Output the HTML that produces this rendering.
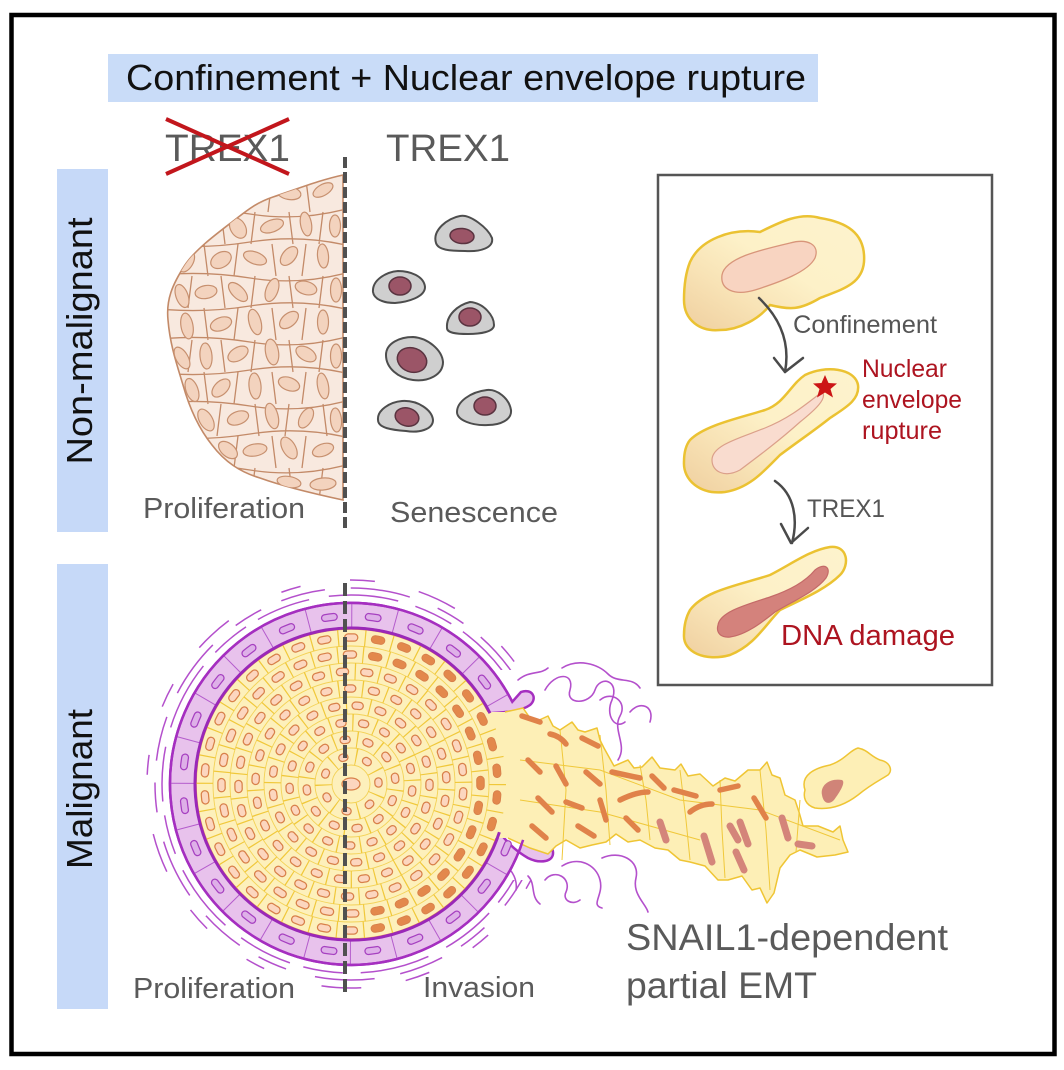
<!DOCTYPE html>
<html><head><meta charset="utf-8"><style>
html,body{margin:0;padding:0;background:#fff;}
svg{display:block;}
text{font-family:"Liberation Sans",Arial,sans-serif;}
</style></head><body>
<svg width="1064" height="1070" viewBox="0 0 1064 1070" xmlns="http://www.w3.org/2000/svg">
<defs>
<clipPath id="tis"><path d="M343,175 C320,180 300,188 273,197 C255,203 245,212 232,222 C215,235 195,250 185,265 C172,285 166,300 168,320 C170,345 177,365 183,385 C190,410 200,430 212,445 C225,462 240,472 260,478 C285,487 315,494 343,500 Z"/></clipPath>
<clipPath id="band"><path d="M512.3,701.8 A181,181 0 1 0 523.1,839.9 L499.4,832.2 A156,156 0 1 1 490,713.2 Z"/></clipPath>
<clipPath id="noneck"><path clip-rule="evenodd" d="M0,0 H1064 V1070 H0 Z M488,670 H600 V880 H488 Z"/></clipPath>
<clipPath id="rightHalf"><rect x="360" y="600" width="160" height="380"/></clipPath>
<linearGradient id="cg" x1="0" y1="1" x2="1" y2="0">
<stop offset="0" stop-color="#efcf9f"/><stop offset="0.3" stop-color="#f8e3b6"/><stop offset="0.55" stop-color="#fdf1c8"/><stop offset="1" stop-color="#fdf3cd"/>
</linearGradient>
</defs>

<rect x="0" y="0" width="1064" height="1070" fill="#fff"/>
<rect x="11.5" y="15" width="1043" height="1039" fill="none" stroke="#000" stroke-width="4.5"/>

<!-- title -->
<rect x="108" y="54" width="710" height="48" fill="#c9dcf8"/>
<text x="126" y="90" font-size="36" fill="#111" textLength="680" lengthAdjust="spacingAndGlyphs">Confinement + Nuclear envelope rupture</text>

<!-- side bars -->
<rect x="57" y="169" width="51" height="363" fill="#c6d9f8"/>
<rect x="57" y="564" width="51" height="445" fill="#c6d9f8"/>
<text transform="translate(92,341) rotate(-90)" text-anchor="middle" font-size="36" fill="#111" textLength="247" lengthAdjust="spacingAndGlyphs">Non-malignant</text>
<text transform="translate(92,789) rotate(-90)" text-anchor="middle" font-size="36" fill="#111" textLength="160" lengthAdjust="spacingAndGlyphs">Malignant</text>

<!-- TREX1 labels -->
<text x="165" y="161" font-size="38" fill="#5a5a5a" textLength="125" lengthAdjust="spacingAndGlyphs">TREX1</text>
<line x1="166" y1="119" x2="289" y2="174" stroke="#c2161c" stroke-width="4"/>
<line x1="166" y1="174" x2="289" y2="119" stroke="#c2161c" stroke-width="4"/>
<text x="386" y="161" font-size="38" fill="#5a5a5a" textLength="124" lengthAdjust="spacingAndGlyphs">TREX1</text>

<!-- non-malignant tissue -->
<path d="M343,175 C320,180 300,188 273,197 C255,203 245,212 232,222 C215,235 195,250 185,265 C172,285 166,300 168,320 C170,345 177,365 183,385 C190,410 200,430 212,445 C225,462 240,472 260,478 C285,487 315,494 343,500 Z" fill="#f8e9df" stroke="#c38a68" stroke-width="1.6"/>
<g clip-path="url(#tis)">
<path fill="none" stroke="#c38a68" stroke-width="1.3" d="
M150,212 Q200,206 250,214 T350,208 M150,244 Q200,250 250,242 T350,246 M150,276 Q200,270 250,278 T350,272
M150,308 Q200,314 250,306 T350,310 M150,340 Q200,334 250,342 T350,336 M150,372 Q200,378 250,370 T350,374
M150,404 Q200,398 250,406 T350,400 M150,436 Q200,442 250,434 T350,438 M150,468 Q200,462 250,470 T350,464
M238,180 L242,212 M272,180 L268,212 M306,180 L310,212
M187,212 L183,244 M221,212 L225,244 M255,212 L251,244 M289,212 L293,244 M323,212 L319,244
M204,244 L208,276 M238,244 L234,276 M272,244 L276,276 M306,244 L302,276
M192,276 L188,308 M221,276 L225,308 M255,276 L251,308 M289,276 L293,308 M323,276 L319,308
M204,308 L208,340 M238,308 L234,340 M272,308 L276,340 M306,308 L302,340
M192,340 L188,372 M221,340 L225,372 M255,340 L251,372 M289,340 L293,372 M323,340 L319,372
M204,372 L208,404 M238,372 L234,404 M272,372 L276,404 M306,372 L302,404
M187,404 L191,436 M221,404 L217,436 M255,404 L259,436 M289,404 L285,436 M323,404 L327,436
M204,436 L208,468 M238,436 L234,468 M272,436 L276,468 M306,436 L302,468
M255,468 L251,500 M289,468 L293,500 M323,468 L319,500"/>
<g fill="#f3d3be" stroke="#c7906f" stroke-width="1.2">
<ellipse cx="255" cy="198" rx="12" ry="6" transform="rotate(-15 255 198)"/>
<ellipse cx="289" cy="193" rx="12" ry="6.5" transform="rotate(10 289 193)"/>
<ellipse cx="323" cy="190" rx="11" ry="5.5" transform="rotate(-30 323 190)"/>
<ellipse cx="204" cy="232" rx="11" ry="6.5" transform="rotate(-40 204 232)"/>
<ellipse cx="238" cy="228" rx="11" ry="7.5" transform="rotate(60 238 228)"/>
<ellipse cx="272" cy="226" rx="12" ry="6" transform="rotate(-20 272 226)"/>
<ellipse cx="306" cy="224" rx="12" ry="5.5" transform="rotate(80 306 224)"/>
<ellipse cx="335" cy="226" rx="11" ry="5.5" transform="rotate(90 335 226)"/>
<ellipse cx="187" cy="262" rx="11" ry="6" transform="rotate(-60 187 262)"/>
<ellipse cx="221" cy="260" rx="11" ry="7.5" transform="rotate(-30 221 260)"/>
<ellipse cx="255" cy="258" rx="12" ry="6" transform="rotate(20 255 258)"/>
<ellipse cx="289" cy="256" rx="11" ry="6.5" transform="rotate(-50 289 256)"/>
<ellipse cx="323" cy="256" rx="12" ry="5.5" transform="rotate(85 323 256)"/>
<ellipse cx="182" cy="296" rx="12" ry="6" transform="rotate(70 182 296)"/>
<ellipse cx="206" cy="292" rx="11" ry="6.5" transform="rotate(-10 206 292)"/>
<ellipse cx="238" cy="292" rx="12" ry="6" transform="rotate(45 238 292)"/>
<ellipse cx="272" cy="290" rx="12" ry="6" transform="rotate(-70 272 290)"/>
<ellipse cx="306" cy="288" rx="11" ry="6.5" transform="rotate(15 306 288)"/>
<ellipse cx="336" cy="290" rx="12" ry="5.5" transform="rotate(90 336 290)"/>
<ellipse cx="187" cy="326" rx="13" ry="6" transform="rotate(80 187 326)"/>
<ellipse cx="221" cy="324" rx="11" ry="6.5" transform="rotate(-20 221 324)"/>
<ellipse cx="255" cy="322" rx="13" ry="6" transform="rotate(75 255 322)"/>
<ellipse cx="289" cy="320" rx="11" ry="6.5" transform="rotate(-40 289 320)"/>
<ellipse cx="323" cy="322" rx="12" ry="5.5" transform="rotate(90 323 322)"/>
<ellipse cx="182" cy="358" rx="12" ry="6" transform="rotate(60 182 358)"/>
<ellipse cx="206" cy="356" rx="13" ry="6" transform="rotate(85 206 356)"/>
<ellipse cx="238" cy="354" rx="11" ry="6.5" transform="rotate(-30 238 354)"/>
<ellipse cx="272" cy="352" rx="13" ry="6.5" transform="rotate(80 272 352)"/>
<ellipse cx="306" cy="354" rx="11" ry="6.5" transform="rotate(30 306 354)"/>
<ellipse cx="336" cy="356" rx="12" ry="5.5" transform="rotate(90 336 356)"/>
<ellipse cx="192" cy="390" rx="12" ry="6" transform="rotate(70 192 390)"/>
<ellipse cx="221" cy="388" rx="11" ry="6.5" transform="rotate(-45 221 388)"/>
<ellipse cx="255" cy="386" rx="13" ry="6" transform="rotate(85 255 386)"/>
<ellipse cx="289" cy="384" rx="11" ry="6.5" transform="rotate(20 289 384)"/>
<ellipse cx="323" cy="386" rx="13" ry="5.5" transform="rotate(80 323 386)"/>
<ellipse cx="206" cy="420" rx="12" ry="6.5" transform="rotate(60 206 420)"/>
<ellipse cx="238" cy="418" rx="11" ry="6.5" transform="rotate(-20 238 418)"/>
<ellipse cx="272" cy="416" rx="13" ry="6" transform="rotate(75 272 416)"/>
<ellipse cx="306" cy="418" rx="11" ry="6" transform="rotate(-60 306 418)"/>
<ellipse cx="336" cy="420" rx="12" ry="5.5" transform="rotate(85 336 420)"/>
<ellipse cx="228" cy="450" rx="11" ry="6.5" transform="rotate(40 228 450)"/>
<ellipse cx="255" cy="450" rx="12" ry="6" transform="rotate(-10 255 450)"/>
<ellipse cx="289" cy="448" rx="12" ry="6.5" transform="rotate(60 289 448)"/>
<ellipse cx="323" cy="450" rx="11" ry="6" transform="rotate(-20 323 450)"/>
<ellipse cx="289" cy="482" rx="12" ry="5.5" transform="rotate(10 289 482)"/>
<ellipse cx="323" cy="484" rx="13" ry="6" transform="rotate(-5 323 484)"/>
</g>
</g>

<!-- senescent cells -->
<g fill="#cfcfcf" stroke="#4d4d4d" stroke-width="2">
<path d="M436,243 C432,230 448,218 460,216 C470,214 488,228 492,238 C494,248 480,252 465,251 C450,251 438,250 436,243 Z"/>
<path d="M373,292 C372,280 386,272 398,271 C410,271 424,276 425,287 C425,297 408,302 395,303 C383,303 374,299 373,292 Z"/>
<path d="M447,328 C446,315 458,305 470,302 C484,303 494,316 494,325 C494,332 480,334 468,334 C456,334 447,333 447,328 Z"/>
<path d="M386,355 C386,343 400,337 413,337 C428,338 442,350 443,362 C443,375 428,382 413,380 C398,378 386,368 386,355 Z"/>
<path d="M378,420 C377,410 390,402 402,401 C418,400 432,410 433,420 C433,430 418,433 406,431 C392,430 378,428 378,420 Z"/>
<path d="M457,412 C457,402 470,392 487,390 C497,389 509,398 511,410 C512,420 500,425 488,425 C472,426 457,420 457,412 Z"/>
</g>
<g fill="#9b5567" stroke="#5a3340" stroke-width="1.5">
<ellipse cx="462" cy="236" rx="12" ry="7.5" transform="rotate(5 462 236)"/>
<ellipse cx="400" cy="286" rx="11" ry="9"/>
<ellipse cx="470" cy="317" rx="11" ry="9"/>
<ellipse cx="412" cy="360" rx="15" ry="12" transform="rotate(20 412 360)"/>
<ellipse cx="407" cy="417" rx="12" ry="9" transform="rotate(15 407 417)"/>
<ellipse cx="485" cy="406" rx="11" ry="9"/>
</g>

<!-- dashed divider top -->
<line x1="345" y1="157" x2="345" y2="528" stroke="#505050" stroke-width="4" stroke-dasharray="11 4"/>

<text x="143" y="518" font-size="29" fill="#5a5a5a" textLength="162" lengthAdjust="spacingAndGlyphs">Proliferation</text>
<text x="390" y="522" font-size="29" fill="#5a5a5a" textLength="168" lengthAdjust="spacingAndGlyphs">Senescence</text>

<!-- inset box -->
<rect x="658" y="175" width="334" height="510" fill="none" stroke="#555" stroke-width="2.5"/>
<!-- cell 1 -->
<path d="M690,262 C700,240 730,228 760,232 C780,222 800,212 820,218 C845,222 866,232 864,262 C862,285 840,290 820,298 C800,310 790,310 770,305 C760,318 740,330 720,330 C700,332 684,320 684,300 C684,285 686,272 690,262 Z" fill="url(#cg)" stroke="#ebc232" stroke-width="2.5"/>
<path d="M722,275 C725,258 760,250 790,243 C808,238 820,245 815,258 C808,272 780,282 755,290 C735,296 720,290 722,275 Z" fill="#f8d4c1" stroke="#d8957a" stroke-width="1.3"/>
<!-- cell 2 -->
<path d="M690,440 C705,425 740,418 765,410 C785,403 790,385 805,375 C825,365 855,368 858,385 C860,400 845,408 830,418 C815,430 800,440 780,455 C765,470 750,488 725,492 C700,495 683,480 684,462 C684,452 686,445 690,440 Z" fill="url(#cg)" stroke="#ebc232" stroke-width="2.5"/>
<path d="M712,460 C712,445 740,438 765,428 C790,418 805,405 822,392 C828,398 815,410 800,422 C780,440 760,455 740,470 C725,478 712,472 712,460 Z" fill="#f9dccf" stroke="#dba08a" stroke-width="1.2"/>
<polygon points="825,375 828.5,383 837,383.5 830.5,389 833,397.5 825,392.5 817,397.5 819.5,389 813,383.5 821.5,383" fill="#cc1515"/>
<!-- cell 3 -->
<path d="M690,610 C705,590 740,585 770,575 C790,565 810,550 830,547 C848,545 850,565 840,575 C825,590 800,600 780,610 C765,625 755,645 730,655 C705,662 683,652 684,635 C684,625 686,617 690,610 Z" fill="url(#cg)" stroke="#ebc232" stroke-width="2.5"/>
<path d="M718,625 C720,612 745,605 770,597 C790,590 805,582 815,570 C825,562 832,568 826,578 C815,592 795,600 775,612 C760,624 745,635 730,637 C720,638 716,632 718,625 Z" fill="#d4827c" stroke="#c46a68" stroke-width="1.2"/>
<!-- arrows -->
<g fill="none" stroke="#4a4a4a" stroke-width="2.5" stroke-linecap="round" stroke-linejoin="round">
<path d="M759,298 C782,320 790,345 785,372"/>
<path d="M774,358 L785,372 L803,358"/>
<path d="M775,481 C795,495 798,520 792,543"/>
<path d="M781,524 L791,543 L808,528"/>
</g>
<text x="793" y="333" font-size="25" fill="#555" textLength="144" lengthAdjust="spacingAndGlyphs">Confinement</text>
<text x="862" y="377" font-size="25" fill="#ad1420" textLength="85" lengthAdjust="spacingAndGlyphs">Nuclear</text>
<text x="862" y="408" font-size="25" fill="#ad1420" textLength="100" lengthAdjust="spacingAndGlyphs">envelope</text>
<text x="862" y="439" font-size="25" fill="#ad1420" textLength="80" lengthAdjust="spacingAndGlyphs">rupture</text>
<text x="807" y="517" font-size="25" fill="#555" textLength="78" lengthAdjust="spacingAndGlyphs">TREX1</text>
<text x="781" y="645" font-size="29" fill="#ad1420" textLength="174" lengthAdjust="spacingAndGlyphs">DNA damage</text>

<!-- malignant: fibers -->
<g clip-path="url(#noneck)" fill="none" stroke="#b450cc" stroke-width="1.5">
<circle cx="351" cy="784" r="189" stroke-dasharray="70 18 40 14 55 20"/>
<circle cx="351" cy="784" r="196" stroke-dasharray="45 26 60 30 30 22"/>
<circle cx="351" cy="784" r="204" stroke-dasharray="25 45 40 60 20 50"/>
</g>
<g fill="none" stroke="#b450cc" stroke-width="1.6" stroke-linecap="round">
<path d="M545,690 C555,672 575,672 570,690 C565,705 590,705 595,690 C600,675 620,680 612,700 C605,715 615,730 625,722"/>
<path d="M562,668 C578,658 598,664 608,674 C618,684 632,676 640,688"/>
<path d="M600,700 C612,690 628,702 620,716 C612,730 628,745 618,760"/>
<path d="M630,712 C640,700 655,706 650,722"/>
<path d="M518,680 C530,670 540,675 548,668"/>
<path d="M545,880 C555,868 572,878 566,892 C562,900 572,906 580,900"/>
<path d="M562,866 C578,856 596,864 600,880 C604,895 590,905 602,908"/>
<path d="M602,858 C620,850 640,860 636,878 C632,894 646,904 648,912"/>
<path d="M528,876 C536,884 530,896 540,904"/>
<path d="M498,860 C510,866 518,878 516,890"/>
</g>

<!-- purple band -->
<path d="M512.3,701.8 A181,181 0 1 0 523.1,839.9 C535,842 552,840 553,852 C554,862 540,864 528,858 C518,852 510,846 499.4,832.2 A156,156 0 1 1 490,713.2 C505,712 520,712 530,705 C538,698 532,688 521,692 Z" fill="#e8c2ec" stroke="#a52fc0" stroke-width="2.5"/>

<!-- core -->
<circle cx="351" cy="784" r="155" fill="#fdf0bb" stroke="#e8944c" stroke-width="1.6"/>
<!-- stream fill -->
<path d="M480,712 L505,712 L523,708 L530,718 L535,722 L548,716 L553,726 L560,730 L572,722 L578,730 L585,732 L597,728 L600,740 L604,748 L614,766 L628,760 L634,768 L642,767 L652,757 L660,768 L675,770 L681,764 L688,776 L700,774 L713,786 L725,778 L735,781 L748,770 L760,770 L767,762 L772,775 L780,778 L785,795 L795,800 L799,812 L803,826 L818,826 L833,832 L840,826 L843,840 L848,852 L835,855 L817,857 L800,850 L790,855 L780,868 L774,893 L767,903 L760,888 L752,890 L742,876 L728,880 L718,880 L705,866 L690,862 L680,860 L668,850 L655,848 L640,840 L628,842 L616,834 L606,842 L592,845 L580,848 L566,840 L556,846 L548,854 L530,848 L508,838 L480,838 Z" fill="#fdefb6"/>
<path d="M505,712 L523,708 L530,718 L535,722 L548,716 L553,726 L560,730 L572,722 L578,730 L585,732 L597,728 L600,740 L604,748 L614,766 L628,760 L634,768 L642,767 L652,757 L660,768 L675,770 L681,764 L688,776 L700,774 L713,786 L725,778 L735,781 L748,770 L760,770 L767,762 L772,775 L780,778 L785,795 L795,800 L799,812 L803,826 L818,826 L833,832 L840,826 L843,840 L848,852 L835,855 L817,857 L800,850 L790,855 L780,868 L774,893 L767,903 L760,888 L752,890 L742,876 L728,880 L718,880 L705,866 L690,862 L680,860 L668,850 L655,848 L640,840 L628,842 L616,834 L606,842 L592,845 L580,848 L566,840 L556,846 L548,854 L530,848 L508,838" fill="none" stroke="#efc534" stroke-width="1.5" stroke-linejoin="round"/>

<!-- core rings -->
<g fill="none">
<g stroke="#f3d257" stroke-width="0.9">
<circle cx="351" cy="784" r="138"/><circle cx="351" cy="784" r="121"/><circle cx="351" cy="784" r="104"/>
<circle cx="351" cy="784" r="87"/><circle cx="351" cy="784" r="70"/><circle cx="351" cy="784" r="53"/>
<circle cx="351" cy="784" r="36"/><circle cx="351" cy="784" r="19"/>
</g>
<g stroke="#f0c83a">
<circle cx="351" cy="784" r="146.5" stroke-width="17" stroke-dasharray="1.2 25.87"/>
<circle cx="351" cy="784" r="129.5" stroke-width="17" stroke-dasharray="1.2 24.23" transform="rotate(5 351 784)"/>
<circle cx="351" cy="784" r="112.5" stroke-width="17" stroke-dasharray="1.2 23.18" transform="rotate(11 351 784)"/>
<circle cx="351" cy="784" r="95.5" stroke-width="17" stroke-dasharray="1.2 22.8" transform="rotate(3 351 784)"/>
<circle cx="351" cy="784" r="78.5" stroke-width="17" stroke-dasharray="1.2 22.29" transform="rotate(9 351 784)"/>
<circle cx="351" cy="784" r="61.5" stroke-width="17" stroke-dasharray="1.2 21.53" transform="rotate(17 351 784)"/>
<circle cx="351" cy="784" r="44.5" stroke-width="17" stroke-dasharray="1.2 22.1" transform="rotate(7 351 784)"/>
<circle cx="351" cy="784" r="27.5" stroke-width="17" stroke-dasharray="1.2 23.49" transform="rotate(22 351 784)"/>
</g>
<g stroke="#d8804a" stroke-width="8.5" stroke-linecap="round">
<circle cx="351" cy="784" r="146.5" stroke-dasharray="6 21.07" stroke-dashoffset="16.54"/>
<circle cx="351" cy="784" r="129.5" stroke-dasharray="6 19.43" stroke-dashoffset="15.7" transform="rotate(5 351 784)"/>
<circle cx="351" cy="784" r="112.5" stroke-dasharray="5 19.38" stroke-dashoffset="14.69" transform="rotate(11 351 784)"/>
<circle cx="351" cy="784" r="95.5" stroke-dasharray="4 20" stroke-dashoffset="14" transform="rotate(3 351 784)"/>
<circle cx="351" cy="784" r="78.5" stroke-dasharray="4 19.49" stroke-dashoffset="13.75" transform="rotate(9 351 784)"/>
<circle cx="351" cy="784" r="61.5" stroke-dasharray="3 19.73" stroke-dashoffset="12.87" transform="rotate(17 351 784)"/>
<circle cx="351" cy="784" r="44.5" stroke-dasharray="3 20.3" stroke-dashoffset="13.15" transform="rotate(7 351 784)"/>
<circle cx="351" cy="784" r="27.5" stroke-dasharray="2 22.69" stroke-dashoffset="13.35" transform="rotate(22 351 784)"/>
</g>
<g stroke="#fcd6bf" stroke-width="6" stroke-linecap="round">
<circle cx="351" cy="784" r="146.5" stroke-dasharray="6 21.07" stroke-dashoffset="16.54"/>
<circle cx="351" cy="784" r="129.5" stroke-dasharray="6 19.43" stroke-dashoffset="15.7" transform="rotate(5 351 784)"/>
<circle cx="351" cy="784" r="112.5" stroke-dasharray="5 19.38" stroke-dashoffset="14.69" transform="rotate(11 351 784)"/>
<circle cx="351" cy="784" r="95.5" stroke-dasharray="4 20" stroke-dashoffset="14" transform="rotate(3 351 784)"/>
<circle cx="351" cy="784" r="78.5" stroke-dasharray="4 19.49" stroke-dashoffset="13.75" transform="rotate(9 351 784)"/>
<circle cx="351" cy="784" r="61.5" stroke-dasharray="3 19.73" stroke-dashoffset="12.87" transform="rotate(17 351 784)"/>
<circle cx="351" cy="784" r="44.5" stroke-dasharray="3 20.3" stroke-dashoffset="13.15" transform="rotate(7 351 784)"/>
<circle cx="351" cy="784" r="27.5" stroke-dasharray="2 22.69" stroke-dashoffset="13.35" transform="rotate(22 351 784)"/>
</g>
<g clip-path="url(#rightHalf)" stroke="#e3884c" stroke-width="6.5" stroke-linecap="round">
<circle cx="351" cy="784" r="146.5" stroke-dasharray="6 21.07" stroke-dashoffset="16.54"/>
<circle cx="351" cy="784" r="129.5" stroke-dasharray="6 19.43" stroke-dashoffset="15.7" transform="rotate(5 351 784)"/>
</g>
</g>
<ellipse cx="351" cy="784" rx="9" ry="6" fill="#fcd6bf" stroke="#d8804a" stroke-width="1.3"/>

<!-- stream internals -->
<path d="M560,730 L566,790 L562,860 M600,735 L606,790 L610,845 M640,765 L646,800 L650,840 M680,770 L686,820 L690,860 M720,780 L722,830 L725,878 M760,770 L766,830 L770,890 M800,800 L796,852 M520,760 L600,770 L680,800 L760,810 L840,840 M520,800 L600,812 L700,840" fill="none" stroke="#f0c83a" stroke-width="1"/>
<g stroke="#e0824a" stroke-width="5.5" stroke-linecap="round" fill="none">
<path d="M522,716 L540,722 M550,734 Q560,736 566,744 M582,738 L598,746 M528,760 L540,772 M556,766 L566,784 M586,772 L600,784 M538,798 L552,812 M566,802 L582,808 M600,800 L606,820 M532,826 L546,838 M578,826 L594,836 M612,772 L640,778 M620,800 Q636,792 648,792 M626,818 L638,830 M652,776 L664,788 M674,790 L696,796 M690,812 Q700,804 712,804 M754,798 L766,818 M720,790 L738,786"/>
</g>
<g stroke="#d4857a" stroke-width="7" stroke-linecap="round" fill="none">
<path d="M704,836 L712,862 M730,826 L738,840 M736,852 L744,870 M740,822 L748,844 M782,818 L788,838 M798,844 L812,846 M660,822 L666,840"/>
</g>
<!-- detached cell -->
<path d="M805,790 C800,775 815,768 830,765 C845,760 850,750 858,748 C868,750 870,756 880,760 C890,762 893,770 888,775 C880,780 870,785 858,795 C845,805 830,810 815,808 C805,805 803,797 805,790 Z" fill="#fdefb6" stroke="#efc534" stroke-width="1.5"/>
<path d="M822,795 C820,785 830,778 842,780 C846,782 840,792 834,800 C828,806 823,802 822,795 Z" fill="#d08478"/>

<!-- band cells -->
<g clip-path="url(#band)" fill="none">
<circle cx="351" cy="784" r="168" stroke="#b45ccc" stroke-width="24" stroke-dasharray="1 42.98"/>
<circle cx="351" cy="784" r="168" stroke="#a640c0" stroke-width="8" stroke-linecap="round" stroke-dasharray="9 34.98" stroke-dashoffset="26.49"/>
<circle cx="351" cy="784" r="168" stroke="#deb0e8" stroke-width="5.5" stroke-linecap="round" stroke-dasharray="9 34.98" stroke-dashoffset="26.49"/>
</g>
<path d="M490,713.2 A156,156 0 1 0 499.4,832.2" fill="none" stroke="#9a28b8" stroke-width="3"/>
<path d="M512.3,701.8 A181,181 0 1 0 523.1,839.9" fill="none" stroke="#a52fc0" stroke-width="2.5"/>

<!-- dashed divider bottom -->
<line x1="345" y1="583" x2="345" y2="997" stroke="#505050" stroke-width="4" stroke-dasharray="13 5"/>

<text x="133" y="998" font-size="29" fill="#5a5a5a" textLength="162" lengthAdjust="spacingAndGlyphs">Proliferation</text>
<text x="423" y="997" font-size="29" fill="#5a5a5a" textLength="112" lengthAdjust="spacingAndGlyphs">Invasion</text>
<text x="626" y="950" font-size="37" fill="#5a5a5a" textLength="322" lengthAdjust="spacingAndGlyphs">SNAIL1-dependent</text>
<text x="626" y="998" font-size="37" fill="#5a5a5a" textLength="191" lengthAdjust="spacingAndGlyphs">partial EMT</text>
</svg>
</body></html>
